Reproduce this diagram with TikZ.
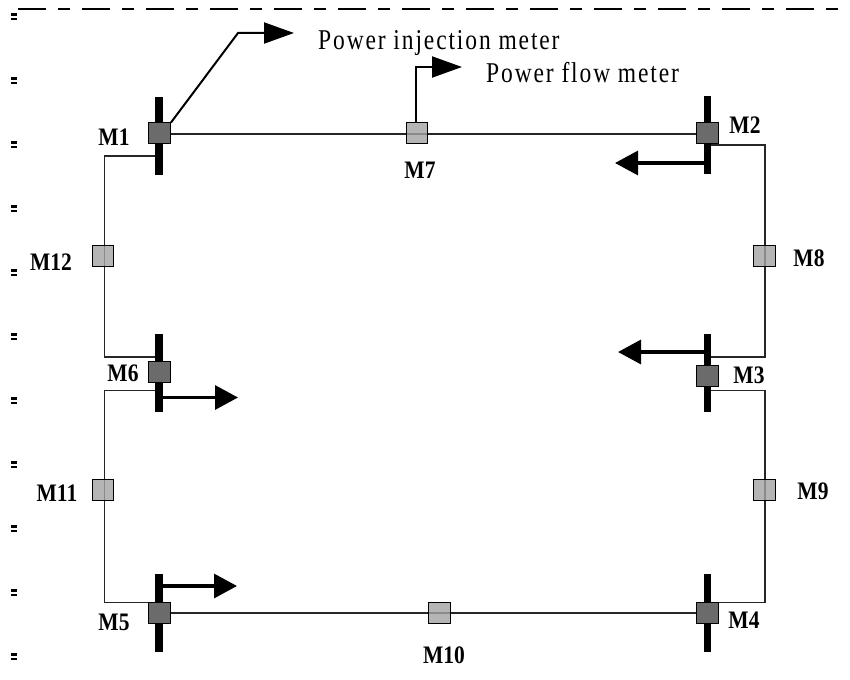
\documentclass[tikz,border=0pt]{standalone}
\usepackage{fontspec}
\usepackage{graphicx}
\usetikzlibrary{arrows.meta}
\setmainfont{Liberation Serif}
\newfontfamily\spacedserif[LetterSpace=8]{Liberation Serif}
\newcommand{\tallM}[1]{\scalebox{1}[1.17]{#1}}
\newcommand{\tallL}[1]{\scalebox{1}[1.22]{#1}}
\definecolor{injfill}{gray}{0.42}
\definecolor{flowfill}{gray}{0.64}
\tikzset{
  busbar/.style={fill=black,inner sep=0pt,minimum width=7.5pt,minimum height=78pt},
  injbox/.style={draw=black,line width=1pt,fill=injfill,inner sep=0pt,minimum width=22pt,minimum height=21pt},
  flowbox/.style={draw=black,line width=1pt,fill=flowfill,fill opacity=.8,inner sep=0pt,minimum width=21pt,minimum height=21pt},
  wire/.style={line width=1.15pt,draw=black!85},
  thinarrow/.style={line width=2pt,-{Triangle[length=30pt,width=21pt]}},
  thickarrow/.style={line width=3.2pt,-{Triangle[length=23pt,width=24pt]}},
  meterlabel/.style={inner sep=0pt,font=\fontsize{21.5}{24}\selectfont\bfseries},
  legendlabel/.style={inner sep=0pt,anchor=base west,font=\fontsize{23.5}{26}\selectfont\spacedserif},
  tick/.style={fill=black,inner sep=0pt,minimum width=6pt,minimum height=2.7pt}
}
\begin{document}
\begin{tikzpicture}[x=1pt,y=-1pt]
\useasboundingbox (0,0) rectangle (850,679);
% top dashed rule and left ticks
\coordinate (dashL) at (18,9.5);
\coordinate (dashR) at (850,9.5);
\draw[line width=2pt,dash pattern=on 28pt off 12pt on 12pt off 12pt] (dashL) -- (dashR);
\foreach \k in {0,...,10}{
  \node[tick] (ta\k) at (14,{14.5+64*\k}) {};
  \node[tick] (tb\k) at (14,{18.9+64*\k}) {};
}
% wire corners
\coordinate (c1a) at (159,156); \coordinate (c1b) at (104.5,156);
\coordinate (c6a) at (159,357); \coordinate (c6b) at (104.5,357);
\coordinate (c6c) at (159,390.5); \coordinate (c6d) at (104.5,390.5);
\coordinate (c5a) at (159,602.5); \coordinate (c5b) at (104.5,602.5);
\coordinate (c2a) at (707.5,145); \coordinate (c2b) at (765,145);
\coordinate (c3a) at (707.5,357); \coordinate (c3b) at (765,357);
\coordinate (c3c) at (707.5,390.5); \coordinate (c3d) at (765,390.5);
\coordinate (c4a) at (707.5,602.5); \coordinate (c4b) at (765,602.5);
% wires
\draw[wire] (159,134) coordinate (w1) -- (707.5,134) coordinate (w2);
\draw[wire] (159,613) coordinate (w5) -- (707.5,613) coordinate (w4);
\draw[wire] (c1a) -- (c1b) -- (c6b) -- (c6a);
\draw[wire] (c6c) -- (c6d) -- (c5b) -- (c5a);
\draw[wire] (c2a) -- (c2b) -- (c3b) -- (c3a);
\draw[wire] (c3c) -- (c3d) -- (c4b) -- (c4a);
% bus bars
\node[busbar] (b1) at (159,136) {};
\node[busbar] (b2) at (707.5,135) {};
\node[busbar] (b3) at (707.5,373) {};
\node[busbar] (b6) at (159,373) {};
\node[busbar] (b5) at (159,613) {};
\node[busbar] (b4) at (707.5,613) {};
% injection meters
\node[injbox] (m1) at (159.5,133.5) {};
\node[injbox] (m2) at (707.5,133.5) {};
\node[injbox] (m3) at (707.5,375.5) {};
\node[injbox] (m4) at (707.5,612.5) {};
\node[injbox] (m5) at (159.5,612.5) {};
\node[injbox] (m6) at (159.5,372) {};
% flow meters
\node[flowbox] (m7) at (416.5,133.5) {};
\node[flowbox,minimum width=22pt] (m8) at (764,256) {};
\node[flowbox,minimum width=22pt] (m9) at (764,490) {};
\node[flowbox,minimum width=22pt] (m10) at (439,612.5) {};
\node[flowbox] (m11) at (103,490) {};
\node[flowbox] (m12) at (103,256) {};
% measurement arrows
\coordinate (t1a) at (238,33); \coordinate (t1b) at (294,33);
\draw[thinarrow] (m1.north east) -- (t1a) -- (t1b);
\coordinate (t7a) at (416,67); \coordinate (t7b) at (462,67);
\draw[thinarrow] (m7.north -| t7a) -- (t7a) -- (t7b);
\coordinate (t2) at (615,163);
\draw[thickarrow] (b2.center |- t2) -- (t2);
\coordinate (t3) at (618,352);
\draw[thickarrow] (b3.center |- t3) -- (t3);
\coordinate (t6) at (238,397.5);
\draw[thickarrow] (b6.center |- t6) -- (t6);
\coordinate (t5) at (237,586);
\draw[thickarrow] (b5.center |- t5) -- (t5);
% labels
\node[meterlabel] (l1) at (114,137) {\tallM{M1}};
\node[meterlabel] (l2) at (745,125) {\tallM{M2}};
\node[meterlabel] (l3) at (749,375) {\tallM{M3}};
\node[meterlabel] (l4) at (744,620) {\tallM{M4}};
\node[meterlabel] (l5) at (114,622) {\tallM{M5}};
\node[meterlabel] (l6) at (123,373) {\tallM{M6}};
\node[meterlabel] (l7) at (420,170) {\tallM{M7}};
\node[meterlabel] (l8) at (809,258) {\tallM{M8}};
\node[meterlabel] (l9) at (813,491) {\tallM{M9}};
\node[meterlabel] (l10) at (444,655) {\tallM{M10}};
\node[meterlabel] (l11) at (57,493) {\tallM{M11}};
\node[meterlabel] (l12) at (51,262) {\tallM{M12}};
\node[legendlabel] (inj) at (318,50) {\tallL{Power injection meter}};
\node[legendlabel] (flow) at (486,83) {\tallL{Power flow meter}};
\end{tikzpicture}
\end{document}
